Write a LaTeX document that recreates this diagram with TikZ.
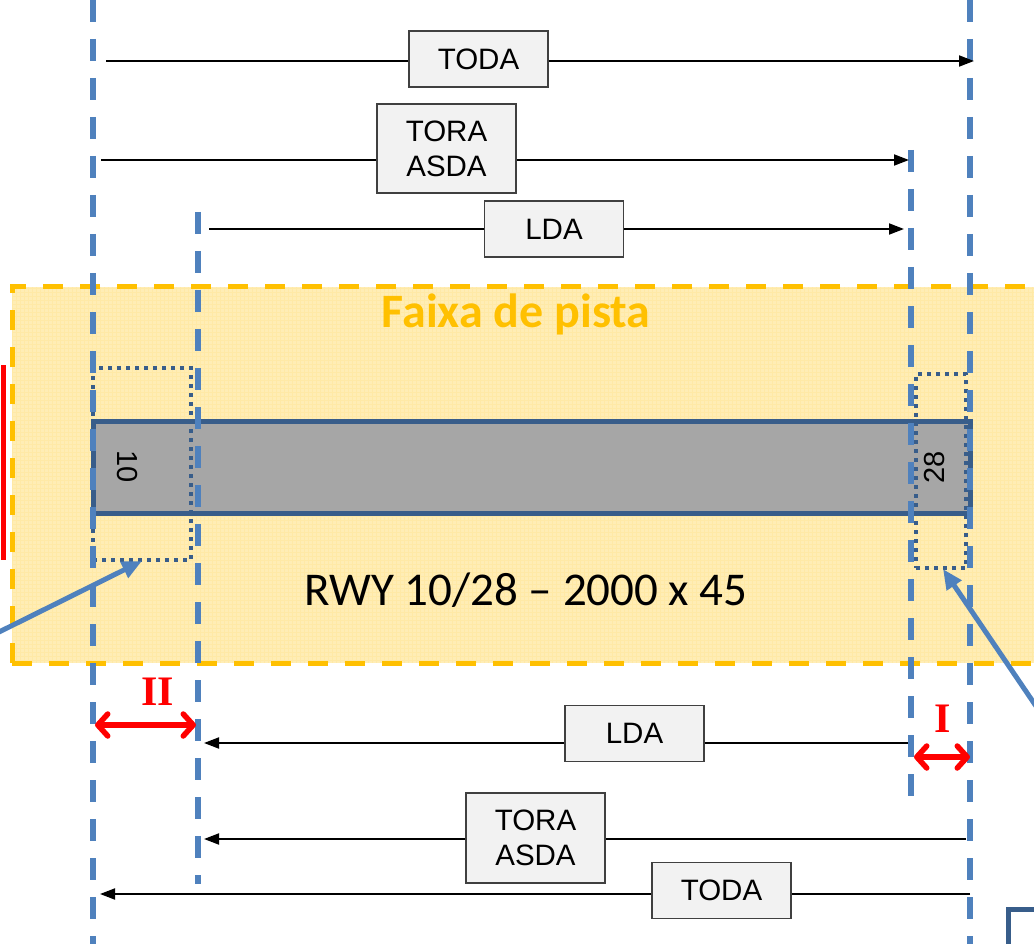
\documentclass[tikz,border=0pt]{standalone}
\usepackage{fontspec}
\setmainfont{Liberation Sans}
\newfontfamily\calib{Carlito}
\newfontfamily\serifb{Liberation Serif}
\usetikzlibrary{arrows.meta}
\definecolor{vblue}{HTML}{4F81BD}
\definecolor{dblue}{HTML}{385D8A}
\definecolor{orng}{HTML}{FFC000}
\definecolor{faixa}{HTML}{FFEDB5}
\definecolor{boxfill}{HTML}{F2F2F2}
\tikzset{
  vline/.style={vblue, line width=5.5pt, dash pattern=on 22pt off 17pt},
  dimarrow/.style={black, line width=1.8pt, -{Triangle[length=15pt,width=11pt]}},
  lbox/.style={draw=black!75, fill=boxfill, line width=1.2pt, minimum width=139pt, minimum height=56pt, inner sep=0pt, font=\fontsize{29.5}{35}\selectfont, align=center},
  redarrow/.style={red, line width=5.5pt, {Straight Barb[length=10pt,width=22pt,round]}-{Straight Barb[length=10pt,width=22pt,round]}},
  redlbl/.style={red, font=\serifb\bfseries\fontsize{42}{42}\selectfont},
  pointer/.style={vblue, line width=5pt, -{Triangle[length=20pt,width=17pt]}},
  dotbox/.style={dblue, line width=4pt, dash pattern=on 4pt off 5pt}
}
\begin{document}
\begin{tikzpicture}[x=1pt,y=-1pt]
\useasboundingbox (0,0) rectangle (1034,944);
\clip (0,0) rectangle (1034,944);
% faixa de pista
\fill[faixa] (12,287) rectangle (1040,663);
\begin{scope}
\clip (12,287) rectangle (1040,663);
\foreach \i in {0,4,...,1040} {\draw[orng!35, line width=0.6pt] (\i,287) -- (\i,663);}
\foreach \j in {288,292,...,664} {\draw[orng!35, line width=0.6pt] (12,\j) -- (1040,\j);}
\end{scope}
\draw[orng, line width=5pt, dash pattern=on 20pt off 17pt] (12,663) -- (12,287) -- (1045,287);
\draw[orng, line width=5pt, dash pattern=on 20pt off 17pt] (12,663) -- (1045,663);
\node[orng, font=\calib\bfseries\fontsize{48}{48}\selectfont] (faixalbl) at (516,314) {Faixa de pista};
% runway
\node[draw=dblue, fill=black!35, line width=5pt, minimum width=877pt, minimum height=92pt, inner sep=0pt] (rwy) at (531.5,467) {};
\node[rotate=-90, font=\fontsize{29}{29}\selectfont] (t10) at (127,467) {10};
\node[rotate=90, font=\fontsize{29}{29}\selectfont] (t28) at (935,467) {28};
\node[font=\calib\fontsize{47}{47}\selectfont] (rwylbl) at (526,590) {RWY 10/28 – 2000 x 45};
% dotted boxes
\node[dotbox, draw, minimum width=98pt, minimum height=192pt, inner sep=0pt] (d10) at (142,464) {};
\node[dotbox, draw, minimum width=50pt, minimum height=194pt, inner sep=0pt] (d28) at (941,471) {};
% vertical dashed lines
\coordinate (v1t) at (93,0); \coordinate (v1b) at (93,944);
\coordinate (v2t) at (198,212); \coordinate (v2b) at (198,884);
\coordinate (v3t) at (911,150); \coordinate (v3b) at (911,800);
\coordinate (v4t) at (970,0); \coordinate (v4b) at (970,944);
\draw[vline] (v1t) -- (v1b);
\draw[vline] (v2t) -- (v2b);
\draw[vline] (v3t) -- (v3b);
\draw[vline] (v4t) -- (v4b);
% red bar
\coordinate (rb1) at (3,365); \coordinate (rb2) at (3,560);
\draw[red, line width=5pt] (rb1) -- (rb2);
% pointer arrows
\coordinate (p1) at (-5,634); \coordinate (p1e) at (142,561);
\coordinate (p2) at (1040,712); \coordinate (p2e) at (943,569);
\draw[pointer] (p1) -- (p1e);
\draw[pointer] (p2) -- (p2e);
% top distances
\coordinate (a1s) at (106,61); \coordinate (a1e) at (974,61);
\draw[dimarrow] (a1s) -- (a1e);
\node[lbox] (toda1) at (478.5,59) {TODA};
\coordinate (a2s) at (101,160); \coordinate (a2e) at (909,160);
\draw[dimarrow] (a2s) -- (a2e);
\node[lbox, minimum height=89pt] (tora1) at (446.5,148.5) {TORA\\ASDA};
\coordinate (a3s) at (209,229); \coordinate (a3e) at (904,229);
\draw[dimarrow] (a3s) -- (a3e);
\node[lbox] (lda1) at (554,229) {LDA};
% bottom distances
\coordinate (b1s) at (908,743); \coordinate (b1e) at (204,743);
\draw[dimarrow] (b1s) -- (b1e);
\node[lbox] (lda2) at (634.5,733.5) {LDA};
\coordinate (b2s) at (966,839); \coordinate (b2e) at (204,839);
\draw[dimarrow] (b2s) -- (b2e);
\node[lbox, minimum height=90pt] (tora2) at (535.5,838) {TORA\\ASDA};
\coordinate (b3s) at (970,894); \coordinate (b3e) at (100,894);
\draw[dimarrow] (b3s) -- (b3e);
\node[lbox] (toda2) at (721.5,890.5) {TODA};
% I and II
\coordinate (r2a) at (95,725); \coordinate (r2b) at (196,725);
\draw[redarrow] (r2a) -- (r2b);
\node[redlbl] (lII) at (158,692) {II};
\coordinate (r1a) at (914,757); \coordinate (r1b) at (970,757);
\draw[redarrow] (r1a) -- (r1b);
\node[redlbl] (lI) at (943,719) {I};
% corner box
\coordinate (cb1) at (1008,950); \coordinate (cb2) at (1008,909); \coordinate (cb3) at (1040,909);
\draw[dblue, line width=5pt] (cb1) -- (cb2) -- (cb3);
\end{tikzpicture}
\end{document}
